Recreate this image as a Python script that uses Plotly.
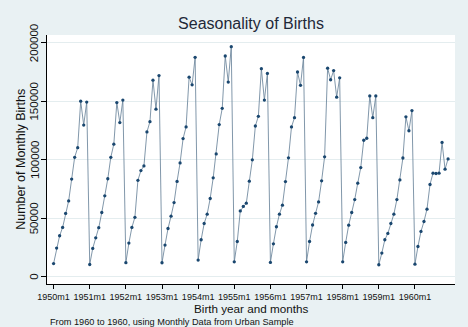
import plotly.graph_objects as go

years = list(range(1950, 1961))
births_1950 = [11000, 24300, 34800, 41900, 53900, 64600, 83300, 102000, 110200, 150000, 129600, 149300]
births_1951 = [10200, 24000, 33000, 41700, 54700, 69000, 83600, 102000, 113200, 148800, 131700, 151000]
births_1952 = [11800, 28500, 41900, 50600, 82300, 90600, 94600, 123700, 132500, 168000, 143200, 172000]
births_1953 = [11700, 26800, 41000, 51600, 63200, 81300, 97200, 118000, 128000, 170600, 164000, 187600]
births_1954 = [14000, 31400, 45300, 53300, 66700, 84400, 104900, 130000, 143900, 188700, 166400, 196700]
births_1955 = [12500, 29900, 56100, 59900, 62700, 81500, 99800, 128800, 137100, 177900, 151000, 173800]
births_1956 = [12000, 27900, 42500, 53300, 61000, 81200, 101500, 128000, 135900, 175000, 163600, 187500]
births_1957 = [12500, 29900, 44000, 54000, 63800, 81800, 102400, 178300, 168400, 176200, 153500, 170000]
births_1958 = [12500, 29100, 43900, 54700, 65800, 79800, 93200, 116600, 118300, 154500, 135900, 154500]
births_1959 = [10000, 20000, 31400, 36800, 45300, 53300, 65800, 82600, 101400, 136600, 124700, 142000]
births_1960 = [10500, 25600, 38500, 47000, 57600, 78700, 88400, 88100, 88400, 114700, 91800, 100600]

births = (births_1950 + births_1951 + births_1952 + births_1953 + births_1954 + births_1955
          + births_1956 + births_1957 + births_1958 + births_1959 + births_1960)
month_index = list(range(len(births)))

x_tick_vals = [12 * i for i in range(len(years))]
x_tick_text = [f"{y}m1" for y in years]
y_tick_vals = [0, 50000, 100000, 150000, 200000]
y_tick_text = ["0", "50000", "100000", "150000", "200000"]

navy = "#1a476f"
line_col = "#6a849b"
bg = "#e9f1f3"
font = "Liberation Sans, Arial, sans-serif"
txt = "#111111"

fig = go.Figure()
fig.add_trace(go.Scatter(
    x=month_index, y=births, mode="lines",
    line=dict(color=line_col, width=0.85),
    showlegend=False, hoverinfo="skip",
))
fig.add_trace(go.Scatter(
    x=month_index, y=births, mode="markers",
    marker=dict(color=navy, size=3.3, symbol="circle"),
    showlegend=False,
))

annotations = [
    dict(text="Birth year and months", xref="paper", yref="paper", x=0.5, y=-(308.5 - 284.3) / 249.3,
         xanchor="center", yanchor="middle", showarrow=False,
         font=dict(size=11.7, family=font, color=txt)),
    dict(text="Number of Monthly Births", xref="paper", yref="paper",
         x=-(46.7 - 20) / 408.3, y=0.5, xanchor="center", yanchor="middle",
         textangle=-90, showarrow=False,
         font=dict(size=12.5, family=font, color=txt)),
    dict(text="From 1960 to 1960, using Monthly Data from Urban Sample", xref="paper", yref="paper",
         x=(48 - 46.7) / 408.3, y=-(322.5 - 284.3) / 249.3, xanchor="left", yanchor="middle",
         showarrow=False, font=dict(size=9.2, family=font, color=txt)),
]
for v, t in zip(y_tick_vals, y_tick_text):
    annotations.append(dict(text=t, xref="paper", yref="y", x=-(46.7 - 34) / 408.3, y=v,
                            xanchor="center", yanchor="middle", textangle=-90, showarrow=False,
                            font=dict(size=11.5, family=font, color=txt)))

fig.update_layout(
    width=468, height=327,
    margin=dict(l=46.7, r=13, t=35, b=42.7),
    paper_bgcolor=bg, plot_bgcolor="white",
    font=dict(family=font, color=txt),
    title=dict(text="Seasonality of Births", x=0.5, xref="paper", y=1 - 23 / 327,
               yref="container", xanchor="center", yanchor="middle",
               font=dict(size=16, color="#1e2838", family=font)),
    xaxis=dict(range=[-2.19, 133.3], tickvals=x_tick_vals, ticktext=x_tick_text,
               tickangle=0,
               showgrid=False, zeroline=False, showline=True, linecolor="black", linewidth=1,
               ticks="outside", ticklen=4, tickcolor="black", tickwidth=1,
               tickfont=dict(size=9, family=font, color=txt)),
    yaxis=dict(range=[-6500, 206700], tickvals=y_tick_vals, ticktext=y_tick_text,
               showticklabels=False,
               showgrid=True, gridcolor="#e4edef", gridwidth=1, zeroline=False,
               showline=True, linecolor="black", linewidth=1,
               ticks="outside", ticklen=5, tickcolor="black", tickwidth=1),
    annotations=annotations,
)

fig.write_html("out.html")
